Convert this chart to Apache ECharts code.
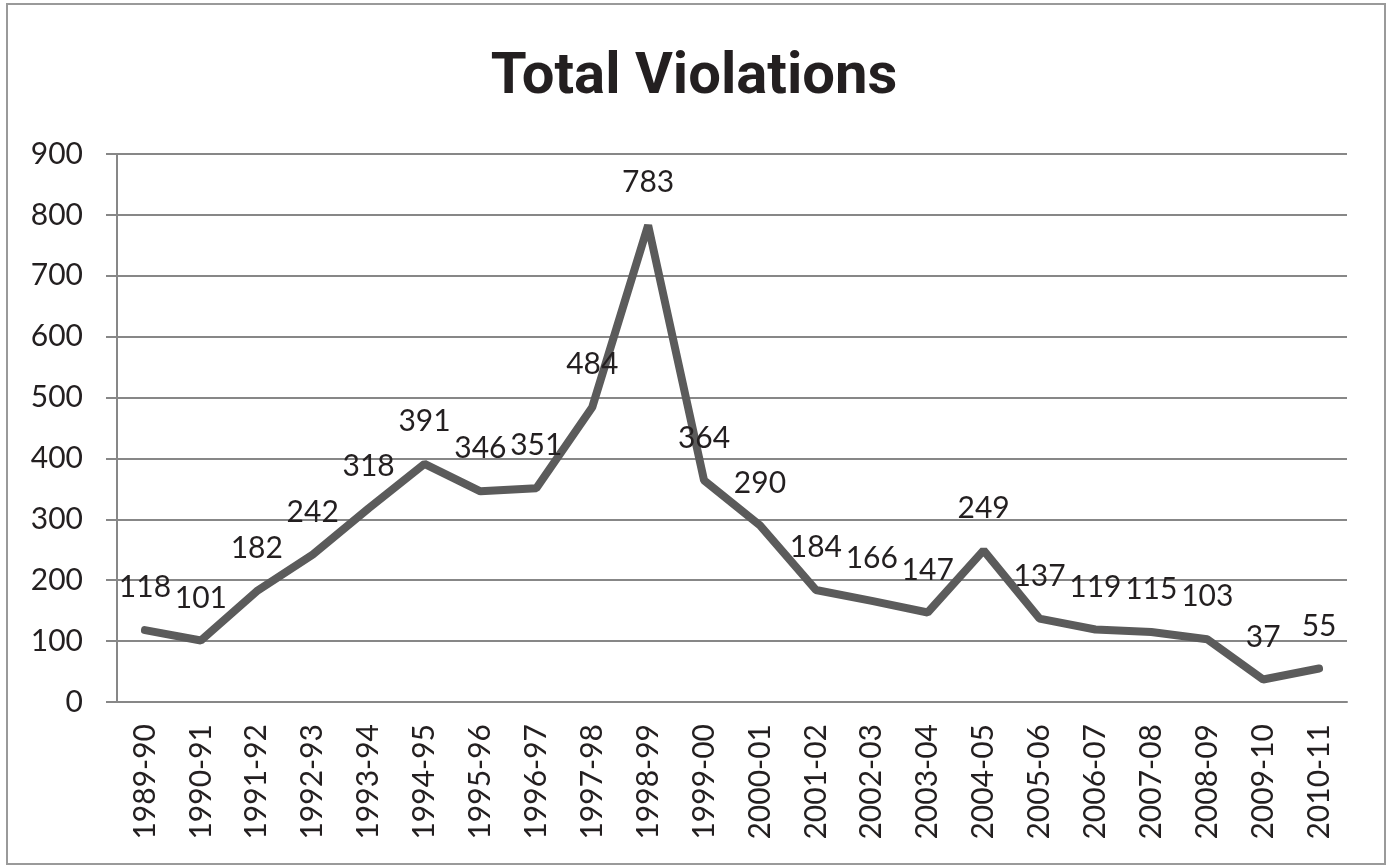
<!DOCTYPE html>
<html>
<head>
<meta charset="utf-8">
<title>Total Violations</title>
<script src="https://cdn.jsdelivr.net/npm/echarts@6/dist/echarts.min.js"></script>
<style>
    html, body {margin: 0; padding: 0; background: #fff;}
    #chart {width: 1388px; height: 865px;}
</style>
</head>
<body>
<div id="chart"></div>
<script>
// school years on the x axis
const years = ['1989-90', '1990-91', '1991-92', '1992-93', '1993-94', '1994-95', '1995-96', '1996-97',
    '1997-98', '1998-99', '1999-00', '2000-01', '2001-02', '2002-03', '2003-04', '2004-05',
    '2005-06', '2006-07', '2007-08', '2008-09', '2009-10', '2010-11'];
// total violations per year
const violations = [118, 101, 182, 242, 318, 391, 346, 351, 484, 783, 364, 290,
    184, 166, 147, 249, 137, 119, 115, 103, 37, 55];
const yTicks = [0, 100, 200, 300, 400, 500, 600, 700, 800, 900];

const textColor = '#231f20';
const gridColor = '#878787';
const font = 'Lato, "Open Sans", sans-serif';

let chart = echarts.init(document.getElementById('chart'));
let option = {
    backgroundColor: '#fff',
    animation: false,
    title: {
        text: 'Total Violations',
        left: 'center',
        top: 44,
        // Roboto has no "ti" ligature, Lato does
        textStyle: {fontFamily: 'Roboto, sans-serif', fontSize: 58, fontWeight: 'bold', color: textColor}
    },
    graphic: [{
        type: 'rect',
        shape: {x: 7, y: 4, width: 1378, height: 860},
        style: {fill: 'none', stroke: '#9a9a9a', lineWidth: 2},
        silent: true
    }],
    grid: {left: 117, right: 41, top: 154, bottom: 163},
    xAxis: {
        type: 'category',
        data: years,
        boundaryGap: true,
        axisLine: {lineStyle: {color: gridColor, width: 2}},
        axisTick: {length: 10, lineStyle: {color: gridColor, width: 2}},
        axisLabel: {
            rotate: 90, margin: 22, interval: 0,
            fontFamily: font, fontSize: 30, color: textColor
        }
    },
    yAxis: {
        type: 'value',
        min: yTicks[0],
        max: yTicks[yTicks.length - 1],
        interval: 100,
        axisLine: {show: true, lineStyle: {color: gridColor, width: 2}},
        axisTick: {show: true, length: 11, lineStyle: {color: gridColor, width: 2}},
        splitLine: {lineStyle: {color: gridColor, width: 2}},
        axisLabel: {margin: 34, fontFamily: font, fontSize: 30, color: textColor}
    },
    series: [{
        type: 'line',
        data: violations,
        symbol: 'circle',
        symbolSize: 1,
        itemStyle: {color: '#5b5b5b'},
        lineStyle: {color: '#5b5b5b', width: 8, cap: 'round'},
        label: {
            show: true,
            position: 'top',
            distance: 27,
            fontFamily: font,
            fontSize: 30,
            color: textColor
        }
    }]
};
chart.setOption(option);
</script>
</body>
</html>
